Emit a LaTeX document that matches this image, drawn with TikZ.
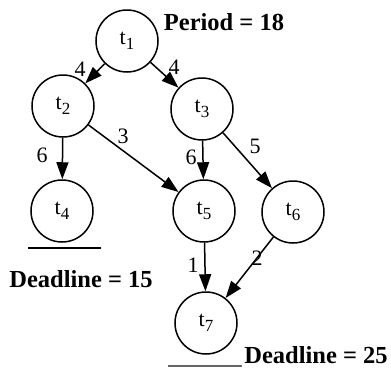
\documentclass[tikz,border=0pt]{standalone}
\usepackage{fontspec}
\setmainfont{Liberation Serif}
\usetikzlibrary{arrows.meta}
\begin{document}
\begin{tikzpicture}[x=1bp,y=-1bp,
  task/.style={circle,draw,line width=1.5bp,minimum size=62bp,inner sep=0pt,
    font=\fontsize{22bp}{24bp}\selectfont},
  dep/.style={line width=1.5bp,-{Triangle[length=17bp,width=12bp]}},
  wt/.style={font=\fontsize{22bp}{24bp}\selectfont,inner sep=0pt},
  note/.style={font=\bfseries\fontsize{24.5bp}{26bp}\selectfont,inner sep=0pt},
  rule/.style={line width=1.5bp}]
\useasboundingbox (0,0) rectangle (391,368);
\newcommand{\tk}[1]{t{\fontsize{17bp}{17bp}\selectfont\raisebox{-4.5bp}{#1}}}
% tasks
\node[task] (t1) at (127,41)  {\tk{1}};
\node[task] (t2) at (63,106)  {\tk{2}};
\node[task] (t3) at (202,109) {\tk{3}};
\node[task] (t4) at (62,211)  {\tk{4}};
\node[task] (t5) at (204,211) {\tk{5}};
\node[task] (t6) at (293,212) {\tk{6}};
\node[task] (t7) at (206,323) {\tk{7}};
% precedence edges
\draw[dep] (t1) -- (t2);
\draw[dep] (t1) -- (t3);
\draw[dep] (t2) -- (t4);
\draw[dep] (t2) -- (t5);
\draw[dep] (t3) -- (t5);
\draw[dep] (t3) -- (t6);
\draw[dep] (t5) -- (t7);
\draw[dep] (t6) -- (t7);
% edge weights
\node[wt] (w12) at (80,69)   {4};
\node[wt] (w13) at (174,67)  {4};
\node[wt] (w25) at (123,136) {3};
\node[wt] (w24) at (42,155)  {6};
\node[wt] (w35) at (191,157) {6};
\node[wt] (w36) at (255,146) {5};
\node[wt] (w57) at (193,265) {1};
\node[wt] (w67) at (257,258) {2};
% annotations
\node[note] (per) at (224,22) {Period = 18};
\coordinate (d4a) at (28,248);
\coordinate (d4b) at (101,248);
\draw[rule] (d4a) -- (d4b);
\node[note] (dl15) at (81,279) {Deadline = 15};
\coordinate (d7a) at (168,366);
\coordinate (d7b) at (242,366);
\draw[rule,black!60] (d7a) -- (d7b);
\node[note] (dl25) at (316,355) {Deadline = 25};
\end{tikzpicture}
\end{document}
